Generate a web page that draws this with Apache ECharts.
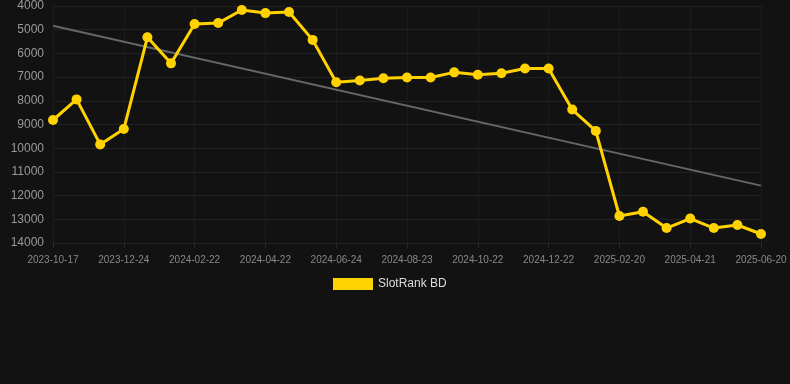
<!DOCTYPE html>
<html><head><meta charset="utf-8">
<script src="https://cdn.jsdelivr.net/npm/echarts@6/dist/echarts.min.js"></script>
<style>html,body{margin:0;padding:0;background:#121212}#c{width:790px;height:384px}</style>
</head><body><div id="c"></div>
<script>
const dates = ["2023-10-17","2023-11-09","2023-12-01","2023-12-24","2024-01-13","2024-02-02","2024-02-22","2024-03-13","2024-04-02","2024-04-22","2024-05-13","2024-06-03","2024-06-24","2024-07-14","2024-08-03","2024-08-23","2024-09-12","2024-10-02","2024-10-22","2024-11-11","2024-12-01","2024-12-22","2025-01-10","2025-01-31","2025-02-20","2025-03-12","2025-04-01","2025-04-21","2025-05-11","2025-05-31","2025-06-20"];
const rankValues = [8810,7940,9840,9190,5320,6420,4760,4720,4170,4300,4250,5430,7220,7140,7050,7020,7020,6800,6900,6840,6640,6640,8370,9270,12860,12680,13370,12970,13370,13240,13620];
const trendStart = 4830;
const trendEnd = 11580;
const trend = dates.map((d,i)=> i===0 ? trendStart : (i===dates.length-1 ? trendEnd : null));
const chart = echarts.init(document.getElementById('c'));
chart.setOption({
  backgroundColor:'#121212',
  animation:false,
  grid:{left:53,right:29,top:6,bottom:141},
  legend:{data:[{name:'SlotRank BD'}],top:273,left:328,itemWidth:40,itemHeight:12,icon:'rect',
    textStyle:{color:'#ddd',fontSize:12,fontFamily:'Arial, Liberation Sans'}},
  xAxis:{type:'category',data:dates,boundaryGap:false,
    axisLine:{show:false},axisTick:{show:true,interval:2,lineStyle:{color:'#2a2a2a'}},
    axisLabel:{interval:2,color:'#888',fontSize:10,fontFamily:'Arial, Liberation Sans',margin:12},
    splitLine:{show:true,interval:2,lineStyle:{color:'#1c1c1c'}}},
  yAxis:{type:'value',inverse:true,min:4000,max:14000,interval:1000,
    axisLine:{show:false},axisTick:{show:false},
    axisLabel:{color:'#999',fontSize:12,fontFamily:'Arial, Liberation Sans',margin:9,formatter:v=>String(v)},
    splitLine:{lineStyle:{color:'#222'}}},
  series:[
    {name:'Trend',type:'line',data:trend,connectNulls:true,showSymbol:false,symbol:'none',
      lineStyle:{color:'#666',width:2},itemStyle:{color:'#666'},z:1},
    {name:'SlotRank BD',type:'line',data:rankValues,symbol:'circle',symbolSize:10,
      lineStyle:{color:'#FFD200',width:3},itemStyle:{color:'#FFD200'},z:2}
  ]
});
</script></body></html>
